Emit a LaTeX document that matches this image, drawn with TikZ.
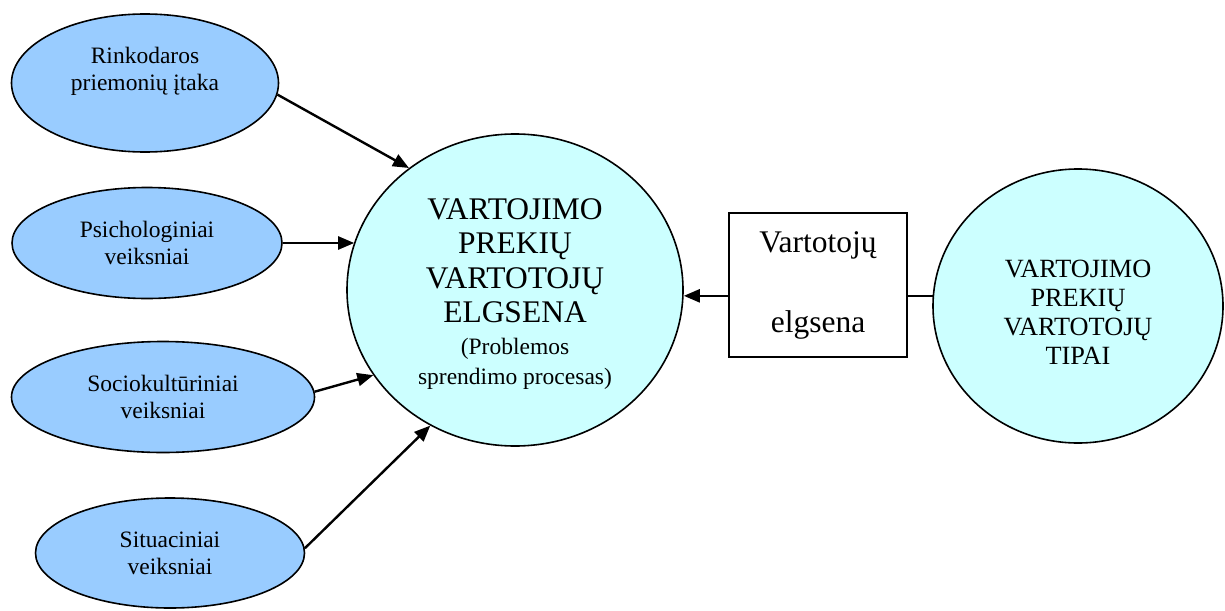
\documentclass[tikz,border=0pt]{standalone}
\usepackage{fontspec}
\setmainfont{Liberation Serif}
\usetikzlibrary{shapes.geometric,arrows.meta}
\definecolor{smallfill}{HTML}{99CCFF}
\definecolor{bigfill}{HTML}{CCFFFF}
\tikzset{
  factor/.style={ellipse, draw=black, line width=1.6pt, fill=smallfill, inner sep=0pt, align=center,
    font=\fontsize{23.5}{27}\selectfont},
  bigcirc/.style={ellipse, draw=black, line width=1.6pt, fill=bigfill, inner sep=0pt, align=center},
  boxnode/.style={rectangle, draw=black, line width=1.8pt, inner sep=0pt, align=center,
    font=\fontsize{31.5}{40}\selectfont},
  conn/.style={line width=2.4pt, -{Triangle[length=16pt,width=13pt]}},
  plain/.style={line width=2.4pt}
}
\begin{document}
\begin{tikzpicture}[x=1pt,y=-1pt]
\useasboundingbox (0,0) rectangle (1225,610);
\node[factor, minimum width=267pt, minimum height=138pt] (e1) at (145,83) {Rinkodaros\\priemonių įtaka\\[-7pt]\strut};
\node[factor, minimum width=270pt, minimum height=111pt] (e2) at (147,243) {Psichologiniai\\veiksniai};
\node[factor, minimum width=303pt, minimum height=111pt] (e3) at (163,397) {Sociokultūriniai\\veiksniai};
\node[factor, minimum width=269pt, minimum height=110pt] (e4) at (170,553) {Situaciniai\\veiksniai};
\node[bigcirc, minimum width=336pt, minimum height=312pt, font=\fontsize{31.5}{34.5}\selectfont] (big) at (515,290)
  {\rule{0pt}{29pt}VARTOJIMO\\PREKIŲ\\VARTOTOJŲ\\ELGSENA\\[-3pt]{\fontsize{23.5}{29}\selectfont (Problemos}\\[-4pt]{\fontsize{23.5}{29}\selectfont sprendimo procesas)}};
\node[boxnode, minimum width=178pt, minimum height=144pt] (box) at (818,285) {Vartotojų\\\strut\\elgsena};
\node[bigcirc, minimum width=290pt, minimum height=274pt, font=\fontsize{26.3}{29}\selectfont] (rc) at (1078,306)
  {\rule{0pt}{29pt}VARTOJIMO\\PREKIŲ\\VARTOTOJŲ\\TIPAI};
\draw[conn] (e1.-5) -- (big.131);
\draw[conn] (e2.east) -- ([xshift=8pt]e2.east -| big.west);
\draw[conn] (e3.2.6) -- (big.211.3);
\draw[conn] (e4.2) -- (big.238);
\draw[plain] (rc.176) -- (rc.176 -| box.east);
\draw[conn] (rc.176 -| box.west) -- (rc.176 -| big.east);
\end{tikzpicture}
\end{document}
